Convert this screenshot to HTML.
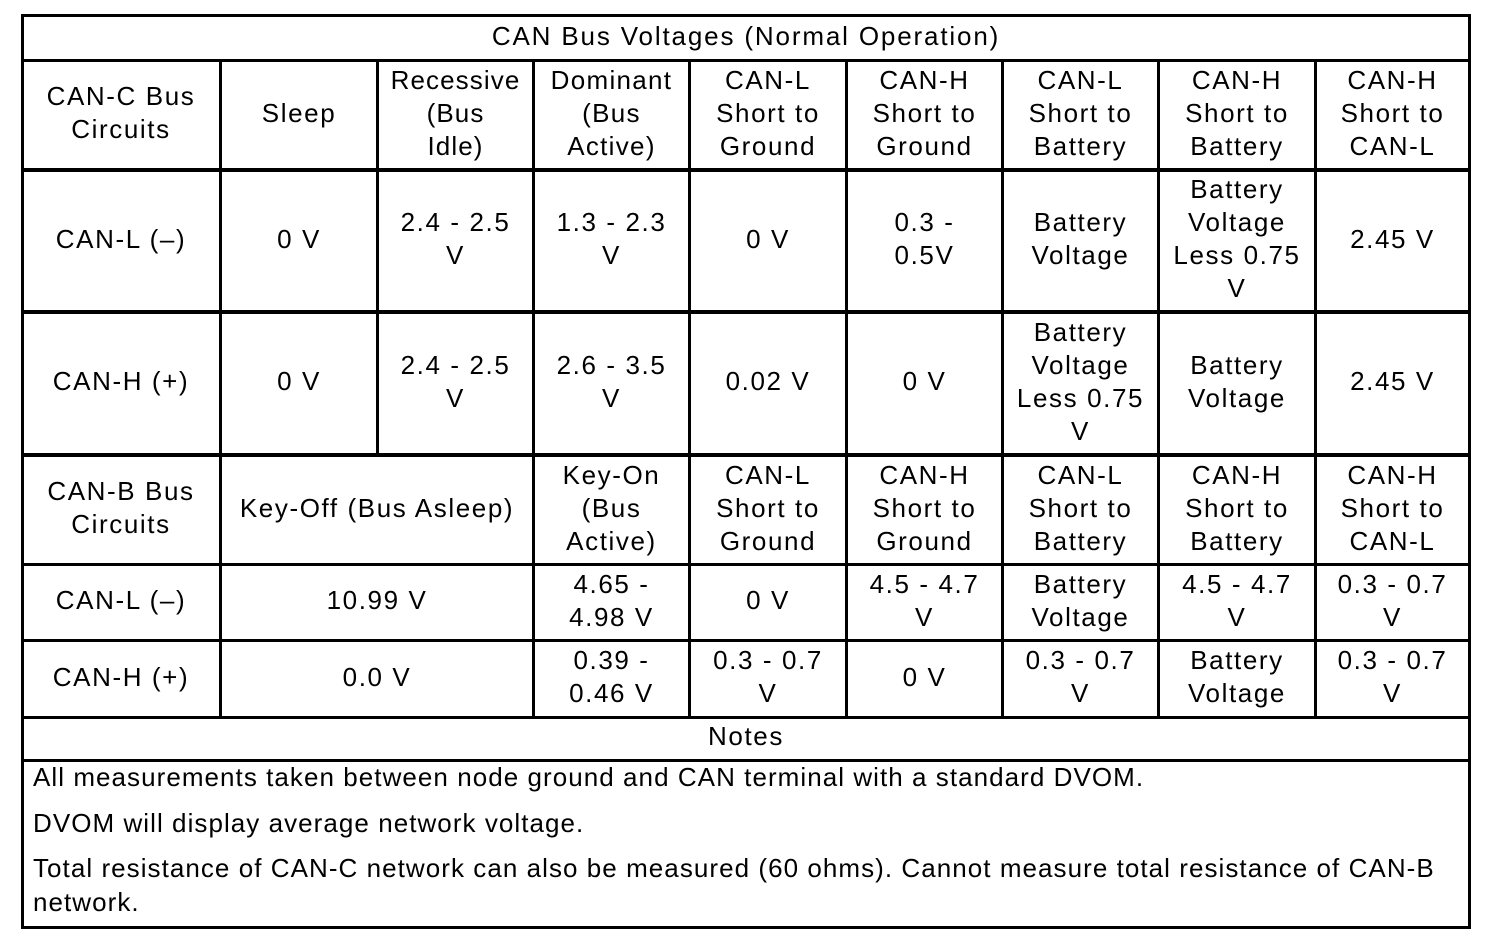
<!DOCTYPE html>
<html><head><style>
body{margin:0;width:1504px;height:938px;background:#fff;position:relative;overflow:hidden;font-family:"Liberation Sans",Arial,sans-serif;font-size:26px;letter-spacing:1.6px;color:#000}
.h,.v{position:absolute;background:#000}
.c{position:absolute;display:flex;align-items:center;justify-content:center;text-align:center;line-height:33px;margin-top:-2px}
.n{position:absolute;left:33px;line-height:34px;margin-top:-1px;letter-spacing:1.05px;white-space:nowrap}
</style></head><body>
<div class="h" style="left:21px;width:1450px;top:14px;height:3px"></div>
<div class="h" style="left:21px;width:1450px;top:59px;height:3px"></div>
<div class="h" style="left:21px;width:1450px;top:168px;height:4px"></div>
<div class="h" style="left:21px;width:1450px;top:310px;height:4px"></div>
<div class="h" style="left:21px;width:1450px;top:453px;height:4px"></div>
<div class="h" style="left:21px;width:1450px;top:563px;height:3px"></div>
<div class="h" style="left:21px;width:1450px;top:639px;height:3px"></div>
<div class="h" style="left:21px;width:1450px;top:716px;height:3px"></div>
<div class="h" style="left:21px;width:1450px;top:759px;height:3px"></div>
<div class="h" style="left:21px;width:1450px;top:926px;height:3px"></div>
<div class="v" style="left:21px;width:3px;top:14px;height:915px"></div>
<div class="v" style="left:1468px;width:3px;top:14px;height:915px"></div>
<div class="v" style="left:219px;width:3px;top:60px;height:658px"></div>
<div class="v" style="left:376px;width:3px;top:60px;height:396px"></div>
<div class="v" style="left:532px;width:3px;top:60px;height:658px"></div>
<div class="v" style="left:688px;width:3px;top:60px;height:658px"></div>
<div class="v" style="left:845px;width:3px;top:60px;height:658px"></div>
<div class="v" style="left:1001px;width:3px;top:60px;height:658px"></div>
<div class="v" style="left:1157px;width:3px;top:60px;height:658px"></div>
<div class="v" style="left:1314px;width:3px;top:60px;height:658px"></div>

<div class="c" style="left:22px;width:1448px;top:16px;height:44px;letter-spacing:1.85px">CAN Bus Voltages (Normal Operation)</div>
<div class="c" style="left:22px;width:198px;top:61px;height:108px">CAN-C Bus<br>Circuits</div>
<div class="c" style="left:221px;width:156px;top:61px;height:108px">Sleep</div>
<div class="c" style="left:378px;width:155px;top:61px;height:108px;letter-spacing:1.1px">Recessive<br>(Bus<br>Idle)</div>
<div class="c" style="left:534px;width:155px;top:61px;height:108px;letter-spacing:1.3px">Dominant<br>(Bus<br>Active)</div>
<div class="c" style="left:690px;width:156px;top:61px;height:108px">CAN-L<br>Short to<br>Ground</div>
<div class="c" style="left:847px;width:155px;top:61px;height:108px">CAN-H<br>Short to<br>Ground</div>
<div class="c" style="left:1003px;width:155px;top:61px;height:108px">CAN-L<br>Short to<br>Battery</div>
<div class="c" style="left:1159px;width:156px;top:61px;height:108px">CAN-H<br>Short to<br>Battery</div>
<div class="c" style="left:1316px;width:153px;top:61px;height:108px">CAN-H<br>Short to<br>CAN-L</div>
<div class="c" style="left:22px;width:198px;top:171px;height:140px">CAN-L (–)</div>
<div class="c" style="left:221px;width:156px;top:171px;height:140px">0 V</div>
<div class="c" style="left:378px;width:155px;top:171px;height:140px">2.4 - 2.5<br>V</div>
<div class="c" style="left:534px;width:155px;top:171px;height:140px">1.3 - 2.3<br>V</div>
<div class="c" style="left:690px;width:156px;top:171px;height:140px">0 V</div>
<div class="c" style="left:847px;width:155px;top:171px;height:140px">0.3 -<br>0.5V</div>
<div class="c" style="left:1003px;width:155px;top:171px;height:140px">Battery<br>Voltage</div>
<div class="c" style="left:1159px;width:156px;top:171px;height:140px">Battery<br>Voltage<br>Less 0.75<br>V</div>
<div class="c" style="left:1316px;width:153px;top:171px;height:140px">2.45 V</div>
<div class="c" style="left:22px;width:198px;top:313px;height:141px">CAN-H (+)</div>
<div class="c" style="left:221px;width:156px;top:313px;height:141px">0 V</div>
<div class="c" style="left:378px;width:155px;top:313px;height:141px">2.4 - 2.5<br>V</div>
<div class="c" style="left:534px;width:155px;top:313px;height:141px">2.6 - 3.5<br>V</div>
<div class="c" style="left:690px;width:156px;top:313px;height:141px">0.02 V</div>
<div class="c" style="left:847px;width:155px;top:313px;height:141px">0 V</div>
<div class="c" style="left:1003px;width:155px;top:313px;height:141px">Battery<br>Voltage<br>Less 0.75<br>V</div>
<div class="c" style="left:1159px;width:156px;top:313px;height:141px">Battery<br>Voltage</div>
<div class="c" style="left:1316px;width:153px;top:313px;height:141px">2.45 V</div>
<div class="c" style="left:22px;width:198px;top:456px;height:108px">CAN-B Bus<br>Circuits</div>
<div class="c" style="left:221px;width:312px;top:456px;height:108px">Key-Off (Bus Asleep)</div>
<div class="c" style="left:534px;width:155px;top:456px;height:108px">Key-On<br>(Bus<br>Active)</div>
<div class="c" style="left:690px;width:156px;top:456px;height:108px">CAN-L<br>Short to<br>Ground</div>
<div class="c" style="left:847px;width:155px;top:456px;height:108px">CAN-H<br>Short to<br>Ground</div>
<div class="c" style="left:1003px;width:155px;top:456px;height:108px">CAN-L<br>Short to<br>Battery</div>
<div class="c" style="left:1159px;width:156px;top:456px;height:108px">CAN-H<br>Short to<br>Battery</div>
<div class="c" style="left:1316px;width:153px;top:456px;height:108px">CAN-H<br>Short to<br>CAN-L</div>
<div class="c" style="left:22px;width:198px;top:565px;height:75px">CAN-L (–)</div>
<div class="c" style="left:221px;width:312px;top:565px;height:75px">10.99 V</div>
<div class="c" style="left:534px;width:155px;top:565px;height:75px">4.65 -<br>4.98 V</div>
<div class="c" style="left:690px;width:156px;top:565px;height:75px">0 V</div>
<div class="c" style="left:847px;width:155px;top:565px;height:75px">4.5 - 4.7<br>V</div>
<div class="c" style="left:1003px;width:155px;top:565px;height:75px">Battery<br>Voltage</div>
<div class="c" style="left:1159px;width:156px;top:565px;height:75px">4.5 - 4.7<br>V</div>
<div class="c" style="left:1316px;width:153px;top:565px;height:75px">0.3 - 0.7<br>V</div>
<div class="c" style="left:22px;width:198px;top:641px;height:76px">CAN-H (+)</div>
<div class="c" style="left:221px;width:312px;top:641px;height:76px">0.0 V</div>
<div class="c" style="left:534px;width:155px;top:641px;height:76px">0.39 -<br>0.46 V</div>
<div class="c" style="left:690px;width:156px;top:641px;height:76px">0.3 - 0.7<br>V</div>
<div class="c" style="left:847px;width:155px;top:641px;height:76px">0 V</div>
<div class="c" style="left:1003px;width:155px;top:641px;height:76px">0.3 - 0.7<br>V</div>
<div class="c" style="left:1159px;width:156px;top:641px;height:76px">Battery<br>Voltage</div>
<div class="c" style="left:1316px;width:153px;top:641px;height:76px">0.3 - 0.7<br>V</div>

<div class="c" style="left:22px;width:1448px;top:718px;height:41px">Notes</div>
<div class="n" style="top:761px">All measurements taken between node ground and CAN terminal with a standard DVOM.</div>
<div class="n" style="top:807px">DVOM will display average network voltage.</div>
<div class="n" style="top:852px">Total resistance of CAN-C network can also be measured (60 ohms). Cannot measure total resistance of CAN-B</div>
<div class="n" style="top:886px">network.</div>
</body></html>
